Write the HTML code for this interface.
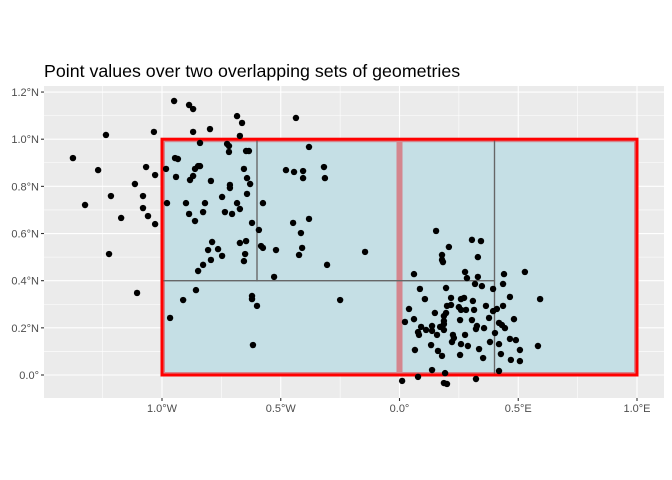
<!DOCTYPE html>
<html><head><meta charset="utf-8"><style>
body{margin:0;background:#fff;}
svg{display:block;font-family:"Liberation Sans",sans-serif;}
</style></head><body>
<svg id="chart" width="672" height="480" viewBox="0 0 672 480"></svg>
<script>
const lons = [-0.949,-0.886,-0.869,-0.684,-0.663,-1.236,-1.034,-0.869,-0.798,-0.672,-1.375,-1.269,-1.067,-1.029,-1.114,-1.215,-1.324,-1.080,-1.080,-1.059,-1.172,-1.029,-0.983,-0.941,-0.945,-0.933,-0.840,-0.726,-0.718,-0.718,-0.646,-0.634,-0.848,-0.840,-0.861,-0.869,-0.882,-0.794,-0.655,-0.642,-0.629,-0.714,-0.714,-0.747,-0.642,-0.684,-0.672,-0.735,-0.705,-0.979,-0.899,-0.819,-0.886,-0.827,-0.861,-0.621,-0.592,-0.575,-0.436,-0.381,-0.478,-0.444,-0.406,-0.406,-0.318,-0.314,-0.448,-0.381,-0.415,0.154,-1.223,-1.105,-0.789,-0.806,-0.764,-0.747,-0.794,-0.827,-0.848,-0.672,-0.646,-0.650,-0.655,-0.583,-0.575,-0.520,-0.410,-0.423,-0.305,-0.145,-0.528,-0.857,-0.911,-0.621,-0.621,-0.600,-0.250,-0.966,-0.617,0.305,0.343,0.208,0.179,0.179,0.183,0.330,0.061,0.276,0.284,0.330,0.318,0.347,0.440,0.528,0.436,0.394,0.086,0.196,0.107,0.217,0.259,0.272,0.309,0.465,0.592,0.040,0.149,0.200,0.217,0.250,0.259,0.280,0.314,0.364,0.394,0.410,0.436,0.196,0.187,0.023,0.061,0.187,0.255,0.305,0.377,0.482,0.091,0.137,0.171,0.187,0.112,0.137,0.187,0.078,0.082,0.158,0.225,0.229,0.221,0.276,0.326,0.322,0.356,0.402,0.419,0.431,0.444,0.465,0.490,0.381,0.419,0.259,0.288,0.133,0.065,0.162,0.179,0.255,0.335,0.352,0.427,0.469,0.507,0.507,0.583,0.137,0.192,0.419,0.078,0.011,0.322,0.187,0.200];
const lats = [1.162,1.145,1.128,1.098,1.069,1.018,1.031,1.031,1.043,1.014,0.920,0.869,0.882,0.848,0.810,0.759,0.721,0.759,0.708,0.674,0.666,0.640,0.874,0.840,0.920,0.916,0.984,0.980,0.971,0.946,0.950,0.950,0.886,0.886,0.874,0.844,0.827,0.823,0.874,0.835,0.810,0.806,0.793,0.755,0.768,0.729,0.704,0.691,0.683,0.729,0.729,0.729,0.683,0.691,0.653,0.645,0.615,0.729,1.090,0.967,0.869,0.861,0.865,0.835,0.882,0.835,0.645,0.662,0.602,0.611,0.513,0.348,0.564,0.530,0.534,0.505,0.488,0.467,0.441,0.560,0.568,0.513,0.483,0.547,0.539,0.530,0.539,0.509,0.467,0.522,0.416,0.360,0.318,0.335,0.322,0.293,0.318,0.242,0.127,0.573,0.568,0.543,0.509,0.488,0.479,0.500,0.428,0.437,0.411,0.416,0.386,0.377,0.428,0.437,0.386,0.365,0.365,0.369,0.322,0.327,0.322,0.327,0.314,0.331,0.322,0.280,0.263,0.293,0.297,0.288,0.276,0.276,0.276,0.293,0.271,0.280,0.293,0.263,0.250,0.225,0.237,0.229,0.233,0.233,0.242,0.237,0.204,0.208,0.204,0.216,0.191,0.187,0.191,0.182,0.170,0.170,0.170,0.157,0.140,0.170,0.208,0.195,0.199,0.178,0.221,0.212,0.199,0.153,0.148,0.140,0.131,0.131,0.123,0.127,0.106,0.102,0.081,0.085,0.110,0.072,0.089,0.064,0.059,0.106,0.123,0.021,0.008,0.017,-0.008,-0.025,-0.017,-0.034,-0.038];
const xTicks = [-1, -0.5, 0, 0.5, 1];
const xTickLabels = ["1.0°W","0.5°W","0.0°","0.5°E","1.0°E"];
const yTicks = [0, 0.2, 0.4, 0.6, 0.8, 1.0, 1.2];
const yTickLabels = ["0.0°","0.2°N","0.4°N","0.6°N","0.8°N","1.0°N","1.2°N"];

const X = v => 399.5 + v*237.5;
const Y = v => 375 - v*235.8;
const NS='http://www.w3.org/2000/svg';
const svg=document.getElementById('chart');
function mk(tag, attrs, parent){const e=document.createElementNS(NS,tag);for(const k in attrs)e.setAttribute(k,attrs[k]);(parent||svg).appendChild(e);return e;}
const P={l:44,r:664,t:86,b:398};

let e=mk('text',{x:44,y:77,'font-size':'17.8',fill:'#000'});e.textContent='Point values over two overlapping sets of geometries';



e=mk('rect',{x:P.l,y:P.t,width:P.r-P.l,height:P.b-P.t,fill:'#EBEBEB'});



for(let v=-1.75;v<=1.3;v+=0.5){const px=X(v);if(px>P.l&&px<P.r){e=mk('line',{x1:px,x2:px,y1:P.t,y2:P.b,stroke:'#fff','stroke-width':0.55});

}}
for(let v=-0.1;v<=1.3;v+=0.2){const py=Y(v);if(py>P.t&&py<P.b){e=mk('line',{x1:P.l,x2:P.r,y1:py,y2:py,stroke:'#fff','stroke-width':0.55});

}}
xTicks.forEach((v,i)=>{const px=X(v);
e=mk('line',{x1:px,x2:px,y1:P.t,y2:P.b,stroke:'#fff','stroke-width':1.1});


e=mk('line',{x1:px,x2:px,y1:P.b,y2:P.b+3,stroke:'#333','stroke-width':1.1});


e=mk('text',{x:px,y:P.b+14,'font-size':'11','text-anchor':'middle',fill:'#4D4D4D'});e.textContent=xTickLabels[i];

});
yTicks.forEach((v,i)=>{const py=Y(v);
e=mk('line',{x1:P.l,x2:P.r,y1:py,y2:py,stroke:'#fff','stroke-width':1.1});


e=mk('line',{x1:P.l-3,x2:P.l,y1:py,y2:py,stroke:'#333','stroke-width':1.1});


e=mk('text',{x:P.l-5,y:py+4,'font-size':'11','text-anchor':'end',fill:'#4D4D4D'});e.textContent=yTickLabels[i];

});

e=mk('rect',{x:X(-1),y:Y(1),width:X(1)-X(-1),height:Y(0)-Y(1),fill:'#C5DFE5'});


[[-1,0],[0,1]].forEach(r=>{e=mk('rect',{x:X(r[0])+1.5,y:Y(1)+1.5,width:X(r[1])-X(r[0])-3,height:Y(0)-Y(1)-3,fill:'none',stroke:'#D4868E','stroke-width':3});

});
[[-1,0.4,-0.6,1],[-0.6,0.4,0.4,1],[-1,0,0.4,0.4],[0.4,0,1,1]].forEach(r=>{e=mk('rect',{x:X(r[0]),y:Y(r[3]),width:X(r[2])-X(r[0]),height:Y(r[1])-Y(r[3]),fill:'none',stroke:'#666','stroke-width':1.2});

});
e=mk('rect',{x:X(-1),y:Y(1),width:X(1)-X(-1),height:Y(0)-Y(1),fill:'none',stroke:'#FF0000','stroke-width':3});



for(let i=0;i<lons.length;i++){
  e=mk('circle',{cx:X(lons[i]),cy:Y(lats[i]),r:3.2,fill:'#000'});
  
  
}
</script>
</body></html>
